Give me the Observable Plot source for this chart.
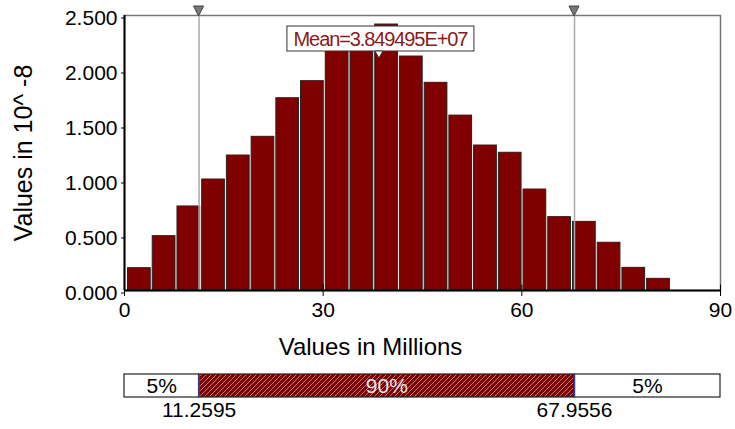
<!DOCTYPE html>
<html><head><meta charset="utf-8">
<script src="https://cdn.jsdelivr.net/npm/d3@7"></script>
<script src="https://cdn.jsdelivr.net/npm/@observablehq/plot@0.6"></script>
<style>
body{margin:0;background:#fff;}
#chart{width:735px;}
#chart svg{display:block;}
</style>
</head><body><div id="chart"></div>
<script>
// ---- data ----
const binEdges = [0.38, 4.11, 7.85, 11.58, 15.31, 19.05, 22.78, 26.51, 30.24, 33.98, 37.71, 41.44, 45.18, 48.91, 52.64, 56.38, 60.11, 63.84, 67.57, 71.31, 75.04, 78.77, 82.51];
const densities = [0.203, 0.494, 0.764, 1.009, 1.227, 1.397, 1.748, 1.903, 2.19, 2.25, 2.418, 2.127, 1.888, 1.59, 1.318, 1.252, 0.918, 0.667, 0.624, 0.434, 0.206, 0.106];
const yTicks = [0, 0.5, 1, 1.5, 2, 2.5];
const xTicks = [0, 30, 60, 90];
const meanValue = 38.49495;
const meanLabel = "Mean=3.849495E+07";
const pLow = 11.2595;
const pHigh = 67.9556;
const pLowLabel = "11.2595";
const pHighLabel = "67.9556";
const segmentLabels = ["5%", "90%", "5%"];
const xTitle = "Values in Millions";
const yTitle = "Values in 10^ -8";

const bins = densities.map((d, i) => ({x1: binEdges[i], x2: binEdges[i + 1], y: d}));
const FONT = "'Liberation Sans', Arial, sans-serif";
const DARKRED = "#800000";

function overlay(index, scales, values, dim) {
  const x = scales.x;
  const top = dim.marginTop;
  const g = d3.create("svg:g");
  for (const p of [pLow, pHigh]) {
    const px = x(p);
    g.append("path")
      .attr("d", `M${px - 5},${top - 9}L${px + 5},${top - 9}L${px},${top + 1}Z`)
      .attr("fill", "#7a7a7a").attr("stroke", "#404040").attr("stroke-width", 1);
  }
  const mx = x(meanValue);
  g.append("rect").attr("x", mx - 92).attr("y", top + 11).attr("width", 187).attr("height", 25)
    .attr("fill", "white").attr("stroke", "#333").attr("stroke-width", 1);
  g.append("text").attr("x", mx + 1.5).attr("y", top + 24)
    .attr("text-anchor", "middle").attr("dy", "0.35em")
    .attr("fill", "#8b1a1a").style("font-size", "20px").style("letter-spacing", "-1.1px")
    .text(meanLabel);
  g.append("path")
    .attr("d", `M${mx - 4},${top + 36}L${mx + 4},${top + 36}L${mx},${top + 43}Z`)
    .attr("fill", "white").attr("stroke", "#333").attr("stroke-width", 1);
  return g.node();
}

const main = Plot.plot({
  width: 735,
  height: 366,
  marginLeft: 124,
  marginRight: 15,
  marginTop: 15,
  marginBottom: 76,
  style: {fontFamily: FONT, fontSize: "21px", color: "black", background: "white", overflow: "visible"},
  x: {domain: [0, 90]},
  y: {domain: [0, 2.5]},
  marks: [
    Plot.frame({stroke: "#777", strokeWidth: 1.5}),
    Plot.rectY(bins, {x1: "x1", x2: "x2", y: "y", fill: DARKRED, stroke: "#222", strokeWidth: 1, insetLeft: 1, insetRight: 1}),
    Plot.ruleX([pLow, pHigh], {stroke: "#aaa", strokeWidth: 1.5}),
    Plot.ruleX([0], {stroke: "black", strokeWidth: 2}),
    Plot.ruleY([0], {stroke: "black", strokeWidth: 2}),
    Plot.axisY({ticks: yTicks, tickFormat: d3.format(".3f"), tickSize: 3, tickPadding: 4, dy: 2.5, label: null}),
    Plot.axisX({ticks: xTicks, tickFormat: d => String(d), tickSize: 6, tickPadding: 6, label: null}),
    Plot.ruleX(xTicks, {x: d => d, y1: 0, y2: 0.05, stroke: "black", strokeWidth: 1}),
    Plot.text([yTitle], {frameAnchor: "left", textAnchor: "middle", rotate: -90, dx: -101, fontSize: 25, fill: "black"}),
    Plot.text([xTitle], {frameAnchor: "bottom", dx: -52, dy: 64, fontSize: 24, fill: "black"}),
    overlay
  ]
});

const segments = [
  {x1: 0, x2: pLow, fill: "white", label: segmentLabels[0], color: "black"},
  {x1: pLow, x2: pHigh, fill: "url(#hatch90)", label: segmentLabels[1], color: "#e8e8e8"},
  {x1: pHigh, x2: 90, fill: "white", label: segmentLabels[2], color: "black"}
];
const cuts = [{x: pLow, label: pLowLabel}, {x: pHigh, label: pHighLabel}];

const strip = Plot.plot({
  width: 735,
  height: 63,
  marginLeft: 124,
  marginRight: 15,
  marginTop: 8,
  marginBottom: 32,
  style: {fontFamily: FONT, fontSize: "21px", color: "black", background: "white", overflow: "visible"},
  x: {domain: [0, 90], axis: null},
  marks: [
    Plot.rect(segments, {x1: "x1", x2: "x2", fill: d => d.fill, stroke: "#222", strokeWidth: 1.2}),
    Plot.ruleX(cuts, {x: "x", stroke: "#4040a0", strokeWidth: 1.5}),
    Plot.text(segments, {x: d => (d.x1 + d.x2) / 2, frameAnchor: "middle", text: "label", fill: d => d.color, fontSize: 21}),
    Plot.text(cuts, {x: "x", frameAnchor: "bottom", dy: 19, text: "label", fill: "black", fontSize: 21})
  ]
});

d3.select(strip).insert("defs", ":first-child").html(
  `<pattern id="hatch90" patternUnits="userSpaceOnUse" width="5" height="5">
     <rect width="5" height="5" fill="${DARKRED}"/>
     <path d="M-1,1 l2,-2 M0,5 l5,-5 M4,6 l2,-2" stroke="#c09a9a" stroke-width="0.8"/>
   </pattern>`
);

document.getElementById("chart").append(main, strip);
</script>
</body></html>
